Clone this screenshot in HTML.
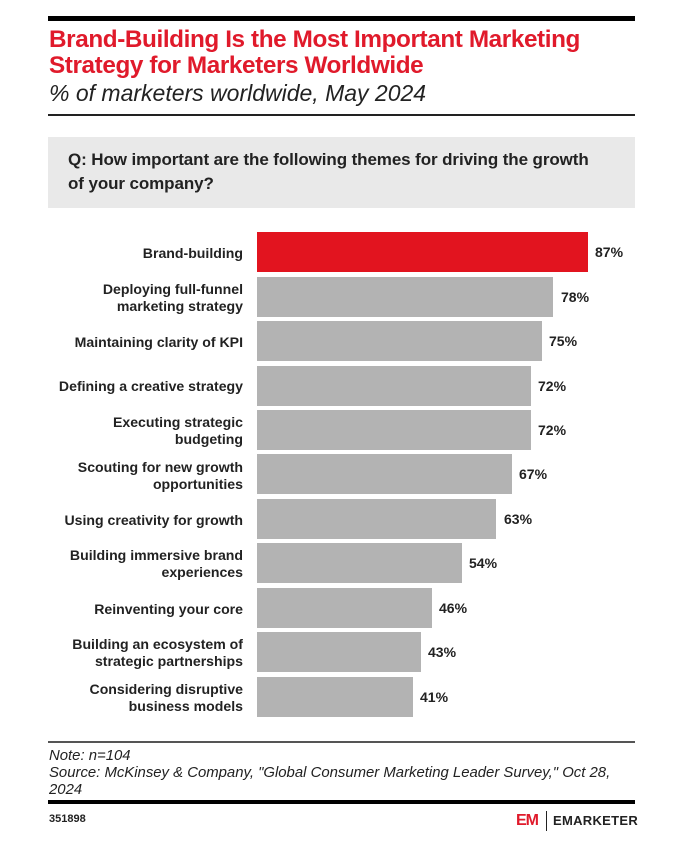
<!DOCTYPE html>
<html><head><style>
body{margin:0;width:700px;height:842px;background:#fff;font-family:"Liberation Sans",sans-serif;position:relative;overflow:hidden}
.a{position:absolute}
.lab{position:absolute;right:457px;width:220px;text-align:right;font-size:14.1px;font-weight:bold;color:#222;line-height:17px;margin-top:1px}
.bar{position:absolute;left:257px;height:40px;background:#b3b3b3}
.val{position:absolute;font-size:14px;font-weight:bold;color:#222}
</style></head><body>
<div class="a" style="left:48px;top:16px;width:587px;height:5px;background:#000"></div>
<div class="a" style="left:49px;top:27px;font-size:24.3px;font-weight:bold;color:#e01a2b;line-height:26px;letter-spacing:-0.4px">Brand-Building Is the Most Important Marketing<br>Strategy for Marketers Worldwide</div>
<div class="a" style="left:49px;top:80px;font-size:23px;font-style:italic;color:#222">% of marketers worldwide, May 2024</div>
<div class="a" style="left:48px;top:114px;width:587px;height:1.5px;background:#222"></div>
<div class="a" style="left:48px;top:137px;width:587px;height:71px;background:#e9e9e9"></div>
<div class="a" style="left:68px;top:148px;font-size:17px;font-weight:bold;color:#222;line-height:24px;letter-spacing:-0.1px">Q: How important are the following themes for driving the growth<br>of your company?</div>

<div class="lab" style="top:244px">Brand-building</div>
<div class="bar" style="top:232px;width:331px;background:#e2141f"></div><div class="val" style="left:595px;top:244px">87%</div>

<div class="lab" style="top:280px">Deploying full-funnel<br>marketing strategy</div>
<div class="bar" style="top:277px;width:296px"></div><div class="val" style="left:561px;top:289px">78%</div>

<div class="lab" style="top:333px">Maintaining clarity of KPI</div>
<div class="bar" style="top:321px;width:285px"></div><div class="val" style="left:549px;top:333px">75%</div>

<div class="lab" style="top:377px">Defining a creative strategy</div>
<div class="bar" style="top:366px;width:274px"></div><div class="val" style="left:538px;top:378px">72%</div>

<div class="lab" style="top:413px">Executing strategic<br>budgeting</div>
<div class="bar" style="top:410px;width:274px"></div><div class="val" style="left:538px;top:422px">72%</div>

<div class="lab" style="top:458px">Scouting for new growth<br>opportunities</div>
<div class="bar" style="top:454px;width:255px"></div><div class="val" style="left:519px;top:466px">67%</div>

<div class="lab" style="top:511px">Using creativity for growth</div>
<div class="bar" style="top:499px;width:239px"></div><div class="val" style="left:504px;top:511px">63%</div>

<div class="lab" style="top:546px">Building immersive brand<br>experiences</div>
<div class="bar" style="top:543px;width:205px"></div><div class="val" style="left:469px;top:555px">54%</div>

<div class="lab" style="top:600px">Reinventing your core</div>
<div class="bar" style="top:588px;width:175px"></div><div class="val" style="left:439px;top:600px">46%</div>

<div class="lab" style="top:635px">Building an ecosystem of<br>strategic partnerships</div>
<div class="bar" style="top:632px;width:164px"></div><div class="val" style="left:428px;top:644px">43%</div>

<div class="lab" style="top:680px">Considering disruptive<br>business models</div>
<div class="bar" style="top:677px;width:156px"></div><div class="val" style="left:420px;top:689px">41%</div>

<div class="a" style="left:48px;top:741px;width:587px;height:2px;background:#555"></div>
<div class="a" style="left:49px;top:748px;font-size:14.9px;font-style:italic;color:#222;line-height:17px">Note: n=104<br>Source: McKinsey &amp; Company, "Global Consumer Marketing Leader Survey," Oct 28,<br>2024</div>
<div class="a" style="left:48px;top:800px;width:587px;height:4px;background:#000"></div>
<div class="a" style="left:49px;top:813px;font-size:11px;font-weight:bold;color:#222">351898</div>
<div class="a" style="left:516px;top:812px;font-size:16px;font-weight:bold;color:#e01a2b;letter-spacing:-1px">EM</div>
<div class="a" style="left:546px;top:811px;width:1px;height:20px;background:#222"></div>
<div class="a" style="left:553px;top:813px;font-size:13px;font-weight:bold;color:#222;letter-spacing:0.3px">EMARKETER</div>
</body></html>
